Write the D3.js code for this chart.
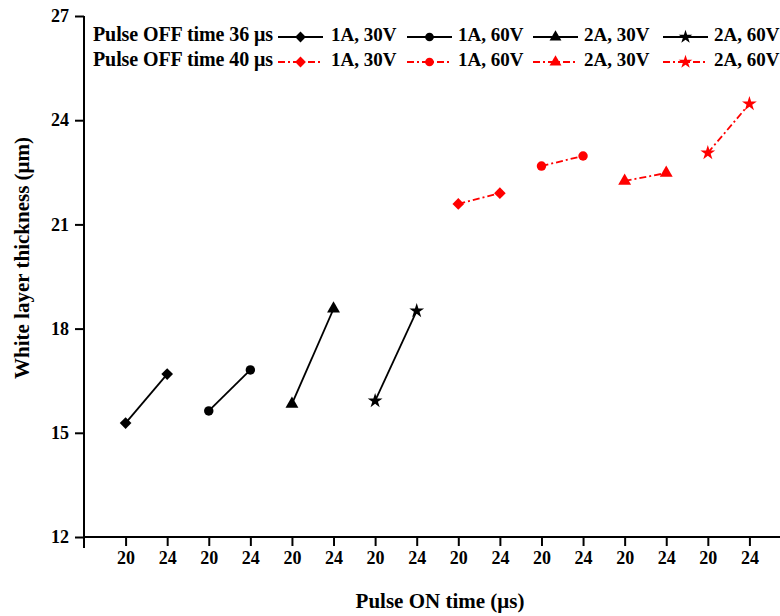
<!DOCTYPE html>
<html>
<head>
<meta charset="utf-8">
<script src="https://cdn.jsdelivr.net/npm/d3@7"></script>
<style>
  body { margin: 0; background: #fff; }
  svg { display: block; font-family: "Liberation Serif", "Times New Roman", serif; font-weight: bold; }
</style>
</head>
<body>
<svg id="chart" width="780" height="616"></svg>
<script>
// x categories: pulse ON time, repeated per group
const tickLabels = ['20', '24', '20', '24', '20', '24', '20', '24',
                    '20', '24', '20', '24', '20', '24', '20', '24'];
const seriesNames = ['1A, 30V', '1A, 60V', '2A, 30V', '2A, 60V'];
const offTimes = ['Pulse OFF time 36 \u03bcs', 'Pulse OFF time 40 \u03bcs'];

// white layer thickness (um), two points per series
const off36 = [[15.28, 16.69], [15.63, 16.81], [15.83, 18.57], [15.92, 18.51]];
const off40 = [[21.59, 21.90], [22.68, 22.97], [22.25, 22.48], [23.06, 24.47]];

const yTicks = [12, 15, 18, 21, 24, 27];

const svg = d3.select('#chart');
const x = d3.scaleLinear().domain([-1, 16]).range([84, 791]);
const y = d3.scaleLinear().domain([12, 27]).range([537, 16]);

const shapes = [
  { type: d3.symbolSquare, rot: 45, size: 68 },
  { type: d3.symbolCircle, rot: 0, size: 70 },
  { type: d3.symbolTriangle, rot: 0, size: 72 },
  { type: d3.symbolStar, rot: 0, size: 68 }
];
const groups = [
  { data: off36, color: '#000', dash: null },
  { data: off40, color: '#ff0000', dash: '7,3,2,3' }
];

// axes
const yAxis = d3.axisLeft(y).tickValues(yTicks).tickSize(9).tickPadding(6);
const gy = svg.append('g').attr('transform', 'translate(' + x(-1) + ',0)').call(yAxis);
gy.select('.domain').attr('d', 'M0,' + y(27) + 'V548');

const xAxis = d3.axisBottom(x).tickValues(d3.range(16)).tickFormat(i => tickLabels[i])
  .tickSize(9).tickPadding(5);
const gx = svg.append('g').attr('transform', 'translate(0,' + y(12) + ')').call(xAxis);
gx.select('.domain').attr('d', 'M' + x(-1) + ',0H791');

svg.selectAll('.domain, .tick line').attr('stroke', '#000').attr('stroke-width', 2);
svg.selectAll('.tick text').attr('fill', '#000').style('font-size', '18px')
  .style('font-family', '"Liberation Serif", serif').style('font-weight', 'bold');

// axis titles
svg.append('text').attr('x', 440).attr('y', 608).attr('text-anchor', 'middle')
  .style('font-size', '21px').text('Pulse ON time (\u03bcs)');
svg.append('text').attr('transform', 'translate(29,258) rotate(-90)').attr('text-anchor', 'middle')
  .style('font-size', '21px').text('White layer thickness (\u03bcm)');

// series
const line = d3.line().x(d => x(d.i)).y(d => y(d.v));
groups.forEach((g, gi) => {
  g.data.forEach((vals, si) => {
    const pts = vals.map((v, k) => ({ i: gi * 8 + si * 2 + k, v: v }));
    svg.append('path').attr('d', line(pts)).attr('fill', 'none')
      .attr('stroke', g.color).attr('stroke-width', 1.8)
      .attr('stroke-dasharray', g.dash);
    const sh = shapes[si];
    svg.selectAll(null).data(pts).enter().append('path')
      .attr('d', d3.symbol().type(sh.type).size(sh.size))
      .attr('transform', d => 'translate(' + x(d.i) + ',' + y(d.v) + ') rotate(' + sh.rot + ')')
      .attr('fill', g.color);
  });
});

// legend
const sampleX = [278, 407, 533, 663];
const labelX = [331, 458, 584, 714];
groups.forEach((g, gi) => {
  const by = 41 + gi * 25;
  svg.append('text').attr('x', 93).attr('y', by).style('font-size', '20px')
    .attr('textLength', 180).text(offTimes[gi]);
  seriesNames.forEach((name, si) => {
    const sh = shapes[si];
    const ly = by - 4;
    svg.append('line').attr('x1', sampleX[si]).attr('x2', sampleX[si] + 45)
      .attr('y1', ly).attr('y2', ly).attr('stroke', g.color).attr('stroke-width', 1.8)
      .attr('stroke-dasharray', g.dash);
    svg.append('path').attr('d', d3.symbol().type(sh.type).size(sh.size * 0.85))
      .attr('transform', 'translate(' + (sampleX[si] + 22.5) + ',' + ly + ') rotate(' + sh.rot + ')')
      .attr('fill', g.color);
    svg.append('text').attr('x', labelX[si]).attr('y', by).style('font-size', '19px').text(name);
  });
});
</script>
</body>
</html>
